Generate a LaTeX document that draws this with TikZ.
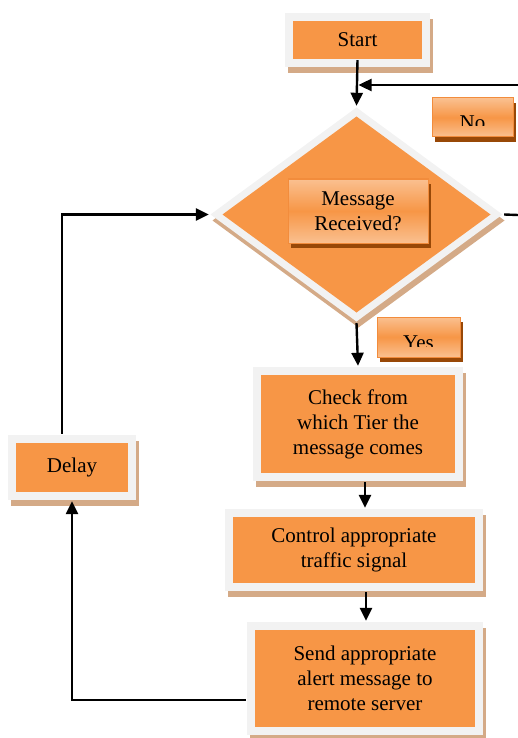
\documentclass[tikz,border=0pt]{standalone}
\usepackage{fontspec}
\setmainfont{Liberation Serif}
\usetikzlibrary{shapes.geometric,shadows,arrows.meta}
\definecolor{boxorange}{HTML}{F79646}
\definecolor{framegray}{HTML}{F2F2F2}
\definecolor{tanshadow}{HTML}{D4AA87}
\definecolor{brownshadow}{HTML}{984807}
\definecolor{lightorange}{HTML}{FAC090}
\definecolor{edgeorange}{HTML}{F28C3C}
\tikzset{
  txt/.style={font=\fontsize{21}{25}\selectfont, align=center},
  block/.style={txt, fill=framegray, inner sep=0pt,
    drop shadow={shadow xshift=3pt, shadow yshift=-6pt, fill=tanshadow, opacity=1},
    path picture={\fill[boxorange] ([shift={(8pt,8pt)}]path picture bounding box.south west)
      rectangle ([shift={(-8pt,-8pt)}]path picture bounding box.north east);}},
  lbl/.style={txt, top color=lightorange, bottom color=lightorange, middle color=boxorange,
    draw=edgeorange, line width=1pt, inner sep=0pt,
    drop shadow={shadow xshift=3pt, shadow yshift=-5pt, fill=brownshadow, opacity=1}},
  cutlbl/.style={lbl, path picture={
    \clip (path picture bounding box.north west) rectangle ([yshift=11pt]path picture bounding box.south east);
    \node[txt, anchor=base] (cut-#1) at ([yshift=-12pt]path picture bounding box.center) {#1};}}
}
\begin{document}
\begin{tikzpicture}[x=1pt, y=-1pt, >={Triangle[length=13pt,width=12pt]}, line width=2.4pt]
  \useasboundingbox (0,0) rectangle (518,738);

  % start and decision
  \node[block, minimum width=145pt, minimum height=54pt] (start) at (357.5,40) {Start};

  \node[diamond, fill=framegray, inner sep=0pt, minimum width=293pt, minimum height=215pt,
    drop shadow={shadow xshift=2pt, shadow yshift=-6pt, fill=tanshadow, opacity=1},
    path picture={\fill[boxorange] ([yshift=-9pt]path picture bounding box.north)
      -- ([xshift=12pt]path picture bounding box.west)
      -- ([yshift=9pt]path picture bounding box.south)
      -- ([xshift=-12pt]path picture bounding box.east) -- cycle;}] (dia) at (356.5,214.5) {};
  \node[lbl, minimum width=140pt, minimum height=64pt] (msg) at (358,211) {Message\\Received?};

  \node[cutlbl=No, minimum width=81pt, minimum height=39pt] (no) at (472.5,117.5) {};
  \node[cutlbl=Yes, minimum width=83pt, minimum height=40pt] (yes) at (418.5,337) {};

  % process boxes
  \node[block, minimum width=210pt, minimum height=114pt] (check) at (358,424)
    {Check from\\which Tier the\\message comes};
  \node[block, minimum width=258pt, minimum height=82pt] (control) at (354,550)
    {Control appropriate\\traffic signal};
  \node[block, minimum width=236pt, minimum height=113pt] (send) at (365,678.5)
    {Send appropriate\\alert message to\\remote server};
  \node[block, minimum width=128pt, minimum height=65pt] (delay) at (72,467.5) {Delay};

  \coordinate (noin) at (518,85);
  \coordinate (noout) at (518,215);

  % connectors
  \draw[->] ([yshift=8pt]start.south) -- (dia.north);
  \draw[->, shorten >=1pt] (noin) -- (noin -| start.south);
  \draw (dia.east) -- (noout);
  \draw[->] (dia.south) -- (check.north);
  \draw[->] ([xshift=7pt]check.south) -- ([xshift=7pt]check.south |- control.north);
  \draw[->] ([xshift=12pt]control.south) -- ([xshift=12pt]control.south |- send.north);
  \draw[->] ([yshift=-21.5pt]send.west) -| (delay.south);
  \draw[->] ([xshift=-10pt]delay.north) |- (dia.west);
\end{tikzpicture}
\end{document}
